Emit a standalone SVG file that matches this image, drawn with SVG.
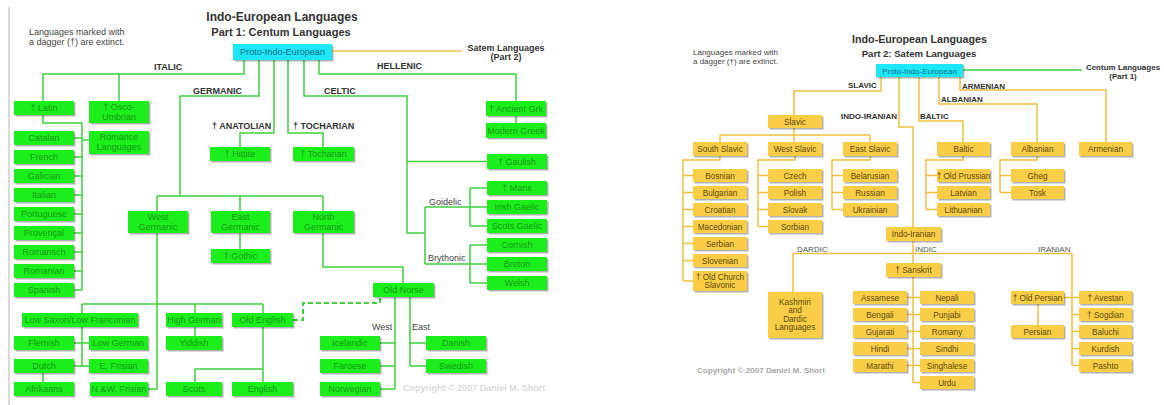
<svg xmlns="http://www.w3.org/2000/svg" width="1164" height="405" viewBox="0 0 1164 405">
<defs>
<filter id="ds" x="-10%" y="-20%" width="130%" height="160%"><feDropShadow dx="1.5" dy="1.5" stdDeviation="0.7" flood-color="#000" flood-opacity="0.3"/></filter>
<style>
text{font-family:"Liberation Sans",Arial,sans-serif}
.g{fill:#1fee1f;filter:url(#ds)}
.y{fill:#f9cd45;filter:url(#ds)}
.c{fill:#1ce6f7;filter:url(#ds)}
.tg{fill:#169a16;font-size:9px;text-anchor:middle}
.ty{fill:#5c4a12;font-size:8.2px;text-anchor:middle}
.tc{fill:#12718c;text-anchor:middle}
.lb{fill:#333;font-size:9px;font-weight:bold}
.lr{fill:#444;font-size:9px}
.ly{fill:#333;font-size:8px;font-weight:bold}
.lyr{fill:#555;font-size:8px}
.cg{fill:none;stroke:#3fcf3f;stroke-width:1.5}
.cy{fill:none;stroke:#f0c040;stroke-width:1.5}
</style>
</defs>
<rect width="1164" height="405" fill="#fff"/>
<line x1="9" y1="7" x2="9" y2="405" stroke="#ccc" stroke-width="1.5"/>

<!-- Left texts -->
<text x="29" y="35" font-size="9" fill="#444">Languages marked with</text>
<text x="29" y="45" font-size="9" fill="#444">a dagger (†) are extinct.</text>
<text x="282" y="21" font-size="12" font-weight="bold" fill="#333" text-anchor="middle">Indo-European Languages</text>
<text x="281" y="36" font-size="11" font-weight="bold" fill="#333" text-anchor="middle">Part 1: Centum Languages</text>
<text x="506" y="51" font-size="9" font-weight="bold" fill="#333" text-anchor="middle">Satem Languages</text>
<text x="506" y="60" font-size="9" font-weight="bold" fill="#333" text-anchor="middle">(Part 2)</text>
<text class="lb" x="154" y="70">ITALIC</text>
<text class="lb" x="193" y="93.5">GERMANIC</text>
<text class="lb" x="324" y="93.5">CELTIC</text>
<text class="lb" x="377" y="69">HELLENIC</text>
<text class="lb" x="212" y="129">† ANATOLIAN</text>
<text class="lb" x="293" y="129">† TOCHARIAN</text>
<text class="lr" x="429" y="205">Goidelic</text>
<text class="lr" x="428" y="261">Brythonic</text>
<text class="lr" x="372" y="330">West</text>
<text class="lr" x="412" y="330">East</text>
<text x="403" y="391" font-size="9" font-weight="bold" fill="#dadada">Copyright © 2007 Daniel M. Short</text>

<!-- Right texts -->
<text x="693" y="55" font-size="8" fill="#444">Languages marked with</text>
<text x="693" y="64" font-size="8" fill="#444">a dagger (†) are extinct.</text>
<text x="919.5" y="43" font-size="10.7" font-weight="bold" fill="#333" text-anchor="middle">Indo-European Languages</text>
<text x="919" y="57" font-size="9.6" font-weight="bold" fill="#333" text-anchor="middle">Part 2: Satem Languages</text>
<text x="1123" y="70" font-size="8" font-weight="bold" fill="#333" text-anchor="middle">Centum Languages</text>
<text x="1123" y="78.5" font-size="8" font-weight="bold" fill="#333" text-anchor="middle">(Part 1)</text>
<text class="ly" x="848" y="88">SLAVIC</text>
<text class="ly" x="841" y="119">INDO-IRANIAN</text>
<text class="ly" x="920" y="119">BALTIC</text>
<text class="ly" x="941" y="102">ALBANIAN</text>
<text class="ly" x="962" y="89">ARMENIAN</text>
<text class="lyr" x="797" y="251.5">DARDIC</text>
<text class="lyr" x="915" y="251.5">INDIC</text>
<text class="lyr" x="1038" y="251.5">IRANIAN</text>
<text x="697" y="373" font-size="8.1" font-weight="bold" fill="#a8a8a8">Copyright © 2007 Daniel M. Short</text>

<!-- Connectors -->
<g id="connectors">
<path class="cy" d="M332 51H462"/>
<path class="cg" d="M963 70H1082"/>
<path class="cg" d="M244 60V74H43V101M119 74V101M43 115V123H82V290M74 138H82M82 140H89M74 157H82M74 176H82M74 195H82M74 214H82M74 233H82M74 252H82M74 271H82M74 290H82"/>
<path class="cg" d="M259 60V96H180V196M157 196H323M157 196V211M240 196V211M323 196V211M240 233V249"/>
<path class="cg" d="M274 60V133H240V147M288 60V133H323V147"/>
<path class="cg" d="M304 60V96H407V233H425M407 161.5H487M425 207V264M425 207H487M470 188V226M470 188H487M470 226H487M425 264H487M470 245V283M470 245H487M470 283H487"/>
<path class="cg" d="M319 60V74H516V101M516 116V123"/>
<path class="cg" d="M157 233V389H148M82 304H263M82 304V313M195 304V313M263 304V313M82 327V366M74 343H89M74 366H89M43 373V382M195 327V336M263 327V382M195 369H263M195 369V382"/>
<path class="cg" d="M323 233V267H403V283M395 297V389M380 343H395M380 366H395M380 389H395M410 297V366M410 343H426M410 366H426"/>
<path d="M293 320H303V303H380V297" fill="none" stroke="#3fcf3f" stroke-width="2" stroke-dasharray="5,3"/>
<path class="cy" d="M881 77V91H794V115M794 128V135M720 135H870M720 135V142M794 135V142M870 135V142"/>
<path class="cy" d="M720 156V160H683V281M683 175.5H693M683 192.5H693M683 209.5H693M683 226.5H693M683 243.5H693M683 260.5H693M683 281H693"/>
<path class="cy" d="M795 156V160H758V226.5M758 175.5H768M758 192.5H768M758 209.5H768M758 226.5H768"/>
<path class="cy" d="M870 156V160H832V209.5M832 175.5H843M832 192.5H843M832 209.5H843"/>
<path class="cy" d="M919 77V121H963V142M963 156V160H926V209.5M926 175.5H937M926 192.5H937M926 209.5H937"/>
<path class="cy" d="M939 77V104H1037V142M1037 156V160H1000V192.5M1000 175.5H1011M1000 192.5H1011"/>
<path class="cy" d="M960 77V90H1106V142"/>
<path class="cy" d="M899 77V127H913V227M913 241V253.5M793 253.5H1072M793 253.5V292M913 253.5V263M913 277V382.5M907 297.5H920M907 314.5H920M907 331.5H920M907 348.5H920M907 365.5H920M913 382.5H920"/>
<path class="cy" d="M1072 253.5V365.5M1064 297.5H1079M1072 314.5H1079M1072 331.5H1079M1072 348.5H1079M1072 365.5H1079M1038 304V325"/>
</g>

<!-- Left nodes -->
<g id="pie1"><rect class="c" x="233" y="44" width="99" height="16"/><text class="tc" x="282.5" y="55.2" font-size="9.1">Proto-Indo-European</text></g>
<g id="latin"><rect class="g" x="14" y="101" width="60" height="14"/><text class="tg" x="44" y="111">† Latin</text></g>
<g id="osco"><rect class="g" x="89" y="101" width="60" height="22"/><text class="tg" x="119" y="109.5">† Osco-</text><text class="tg" x="119" y="119.5">Umbrian</text></g>
<g id="romance"><rect class="g" x="89" y="131" width="60" height="23"/><text class="tg" x="119" y="140">Romance</text><text class="tg" x="119" y="150">Languages</text></g>
<g id="catalan"><rect class="g" x="14" y="131" width="60" height="14"/><text class="tg" x="44" y="141">Catalan</text></g>
<g id="french"><rect class="g" x="14" y="150" width="60" height="14"/><text class="tg" x="44" y="160">French</text></g>
<g id="galician"><rect class="g" x="14" y="169" width="60" height="14"/><text class="tg" x="44" y="179">Galician</text></g>
<g id="italian"><rect class="g" x="14" y="188" width="60" height="14"/><text class="tg" x="44" y="198">Italian</text></g>
<g id="portuguese"><rect class="g" x="14" y="207" width="60" height="14"/><text class="tg" x="44" y="217">Portuguese</text></g>
<g id="provencal"><rect class="g" x="14" y="226" width="60" height="14"/><text class="tg" x="44" y="236">Provençal</text></g>
<g id="romansch"><rect class="g" x="14" y="245" width="60" height="14"/><text class="tg" x="44" y="255">Romansch</text></g>
<g id="romanian"><rect class="g" x="14" y="264" width="60" height="14"/><text class="tg" x="44" y="274">Romanian</text></g>
<g id="spanish"><rect class="g" x="14" y="283" width="60" height="14"/><text class="tg" x="44" y="293">Spanish</text></g>
<g id="ancientgrk"><rect class="g" x="486" y="101" width="60" height="15"/><text class="tg" x="516" y="111.5">† Ancient Grk</text></g>
<g id="moderngreek"><rect class="g" x="486" y="123" width="60" height="15"/><text class="tg" x="516" y="133.5">Modern Greek</text></g>
<g id="hittite"><rect class="g" x="210" y="147" width="60" height="14"/><text class="tg" x="240" y="157">† Hittite</text></g>
<g id="tocharian"><rect class="g" x="293" y="147" width="61" height="14"/><text class="tg" x="323.5" y="157">† Tocharian</text></g>
<g id="gaulish"><rect class="g" x="487" y="154" width="60" height="15"/><text class="tg" x="517" y="164.5">† Gaulish</text></g>
<g id="manx"><rect class="g" x="487" y="181" width="60" height="14"/><text class="tg" x="517" y="191">† Manx</text></g>
<g id="irish"><rect class="g" x="487" y="200" width="60" height="14"/><text class="tg" x="517" y="210">Irish Gaelic</text></g>
<g id="scotsgaelic"><rect class="g" x="487" y="219" width="60" height="14"/><text class="tg" x="517" y="229">Scots Gaelic</text></g>
<g id="cornish"><rect class="g" x="487" y="238" width="60" height="14"/><text class="tg" x="517" y="248">Cornish</text></g>
<g id="breton"><rect class="g" x="487" y="257" width="60" height="14"/><text class="tg" x="517" y="267">Breton</text></g>
<g id="welsh"><rect class="g" x="487" y="276" width="60" height="14"/><text class="tg" x="517" y="286">Welsh</text></g>
<g id="westgermanic"><rect class="g" x="128" y="211" width="60" height="22"/><text class="tg" x="158" y="220">West</text><text class="tg" x="158" y="229.5">Germanic</text></g>
<g id="eastgermanic"><rect class="g" x="211" y="211" width="59" height="22"/><text class="tg" x="240.5" y="220">East</text><text class="tg" x="240.5" y="229.5">Germanic</text></g>
<g id="northgermanic"><rect class="g" x="293" y="211" width="61" height="22"/><text class="tg" x="323.5" y="220">North</text><text class="tg" x="323.5" y="229.5">Germanic</text></g>
<g id="gothic"><rect class="g" x="211" y="249" width="59" height="14"/><text class="tg" x="240.5" y="259">† Gothic</text></g>
<g id="lowsaxon"><rect class="g" x="22" y="313" width="116" height="14"/><text class="tg" x="80" y="323">Low Saxon/Low Franconian</text></g>
<g id="highgerman"><rect class="g" x="166" y="313" width="56" height="14"/><text class="tg" x="194" y="323">High German</text></g>
<g id="oldenglish"><rect class="g" x="232" y="313" width="61" height="14"/><text class="tg" x="262.5" y="323">Old English</text></g>
<g id="flemish"><rect class="g" x="14" y="336" width="60" height="14"/><text class="tg" x="44" y="346">Flemish</text></g>
<g id="lowgerman"><rect class="g" x="89" y="336" width="59" height="14"/><text class="tg" x="118.5" y="346">Low German</text></g>
<g id="dutch"><rect class="g" x="14" y="359" width="60" height="14"/><text class="tg" x="44" y="369">Dutch</text></g>
<g id="efrisian"><rect class="g" x="89" y="359" width="59" height="14"/><text class="tg" x="118.5" y="369">E. Frisian</text></g>
<g id="afrikaans"><rect class="g" x="14" y="382" width="60" height="14"/><text class="tg" x="44" y="392">Afrikaans</text></g>
<g id="nwfrisian"><rect class="g" x="90" y="382" width="58" height="14"/><text class="tg" x="119" y="392">N.&amp;W. Frisian</text></g>
<g id="yiddish"><rect class="g" x="166" y="336" width="56" height="14"/><text class="tg" x="194" y="346">Yiddish</text></g>
<g id="scots"><rect class="g" x="166" y="382" width="56" height="14"/><text class="tg" x="194" y="392">Scots</text></g>
<g id="english"><rect class="g" x="232" y="382" width="61" height="14"/><text class="tg" x="262.5" y="392">English</text></g>
<g id="oldnorse"><rect class="g" x="373" y="283" width="61" height="14"/><text class="tg" x="403.5" y="293">Old Norse</text></g>
<g id="icelandic"><rect class="g" x="320" y="336" width="60" height="14"/><text class="tg" x="350" y="346">Icelandic</text></g>
<g id="faroese"><rect class="g" x="320" y="359" width="60" height="14"/><text class="tg" x="350" y="369">Faroese</text></g>
<g id="norwegian"><rect class="g" x="320" y="382" width="60" height="14"/><text class="tg" x="350" y="392">Norwegian</text></g>
<g id="danish"><rect class="g" x="426" y="336" width="60" height="14"/><text class="tg" x="456" y="346">Danish</text></g>
<g id="swedish"><rect class="g" x="426" y="359" width="60" height="14"/><text class="tg" x="456" y="369">Swedish</text></g>

<!-- Right nodes -->
<g id="pie2"><rect class="c" x="876" y="64" width="87" height="13"/><text class="tc" x="919.5" y="73.5" font-size="8">Proto-Indo-European</text></g>
<g id="slavic"><rect class="y" x="768" y="115" width="54" height="13"/><text class="ty" x="795" y="124.5">Slavic</text></g>
<g id="southslavic"><rect class="y" x="693" y="142" width="54" height="14"/><text class="ty" x="720" y="152">South Slavic</text></g>
<g id="westslavic"><rect class="y" x="768" y="142" width="54" height="14"/><text class="ty" x="795" y="152">West Slavic</text></g>
<g id="eastslavic"><rect class="y" x="843" y="142" width="54" height="14"/><text class="ty" x="870" y="152">East Slavic</text></g>
<g id="baltic"><rect class="y" x="937" y="142" width="53" height="14"/><text class="ty" x="963.5" y="152">Baltic</text></g>
<g id="albanian"><rect class="y" x="1011" y="142" width="53" height="14"/><text class="ty" x="1037.5" y="152">Albanian</text></g>
<g id="armenian"><rect class="y" x="1079" y="142" width="53" height="14"/><text class="ty" x="1105.5" y="152">Armenian</text></g>
<g id="bosnian"><rect class="y" x="693" y="169" width="54" height="13"/><text class="ty" x="720" y="178.5">Bosnian</text></g>
<g id="bulgarian"><rect class="y" x="693" y="186" width="54" height="13"/><text class="ty" x="720" y="195.5">Bulgarian</text></g>
<g id="croatian"><rect class="y" x="693" y="203" width="54" height="13"/><text class="ty" x="720" y="212.5">Croatian</text></g>
<g id="macedonian"><rect class="y" x="693" y="220" width="54" height="13"/><text class="ty" x="720" y="229.5">Macedonian</text></g>
<g id="serbian"><rect class="y" x="693" y="237" width="54" height="13"/><text class="ty" x="720" y="246.5">Serbian</text></g>
<g id="slovenian"><rect class="y" x="693" y="254" width="54" height="13"/><text class="ty" x="720" y="263.5">Slovenian</text></g>
<g id="ocs"><rect class="y" x="693" y="271" width="54" height="20"/><text class="ty" x="720" y="279.5">† Old Church</text><text class="ty" x="720" y="288">Slavonic</text></g>
<g id="czech"><rect class="y" x="768" y="169" width="54" height="13"/><text class="ty" x="795" y="178.5">Czech</text></g>
<g id="polish"><rect class="y" x="768" y="186" width="54" height="13"/><text class="ty" x="795" y="195.5">Polish</text></g>
<g id="slovak"><rect class="y" x="768" y="203" width="54" height="13"/><text class="ty" x="795" y="212.5">Slovak</text></g>
<g id="sorbian"><rect class="y" x="768" y="220" width="54" height="13"/><text class="ty" x="795" y="229.5">Sorbian</text></g>
<g id="belarusian"><rect class="y" x="843" y="169" width="54" height="13"/><text class="ty" x="870" y="178.5">Belarusian</text></g>
<g id="russian"><rect class="y" x="843" y="186" width="54" height="13"/><text class="ty" x="870" y="195.5">Russian</text></g>
<g id="ukrainian"><rect class="y" x="843" y="203" width="54" height="13"/><text class="ty" x="870" y="212.5">Ukrainian</text></g>
<g id="oldprussian"><rect class="y" x="937" y="169" width="53" height="13"/><text class="ty" x="963.5" y="178.5">† Old Prussian</text></g>
<g id="latvian"><rect class="y" x="937" y="186" width="53" height="13"/><text class="ty" x="963.5" y="195.5">Latvian</text></g>
<g id="lithuanian"><rect class="y" x="937" y="203" width="53" height="13"/><text class="ty" x="963.5" y="212.5">Lithuanian</text></g>
<g id="gheg"><rect class="y" x="1011" y="169" width="53" height="13"/><text class="ty" x="1037.5" y="178.5">Gheg</text></g>
<g id="tosk"><rect class="y" x="1011" y="186" width="53" height="13"/><text class="ty" x="1037.5" y="195.5">Tosk</text></g>
<g id="indoiranian"><rect class="y" x="886" y="227" width="55" height="14"/><text class="ty" x="913.5" y="237">Indo-Iranian</text></g>
<g id="sanskrit"><rect class="y" x="886" y="263" width="55" height="14"/><text class="ty" x="913.5" y="273">† Sanskrit</text></g>
<g id="kashmiri"><rect class="y" x="768" y="292" width="54" height="46"/><text class="ty" x="795" y="305">Kashmiri</text><text class="ty" x="795" y="313.3">and</text><text class="ty" x="795" y="321.6">Dardic</text><text class="ty" x="795" y="330">Languages</text></g>
<g id="assamese"><rect class="y" x="853" y="291" width="54" height="13"/><text class="ty" x="880" y="300.5">Assamese</text></g>
<g id="bengali"><rect class="y" x="853" y="308" width="54" height="13"/><text class="ty" x="880" y="317.5">Bengali</text></g>
<g id="gujarati"><rect class="y" x="853" y="325" width="54" height="13"/><text class="ty" x="880" y="334.5">Gujarati</text></g>
<g id="hindi"><rect class="y" x="853" y="342" width="54" height="13"/><text class="ty" x="880" y="351.5">Hindi</text></g>
<g id="marathi"><rect class="y" x="853" y="359" width="54" height="13"/><text class="ty" x="880" y="368.5">Marathi</text></g>
<g id="nepali"><rect class="y" x="920" y="291" width="54" height="13"/><text class="ty" x="947" y="300.5">Nepali</text></g>
<g id="punjabi"><rect class="y" x="920" y="308" width="54" height="13"/><text class="ty" x="947" y="317.5">Punjabi</text></g>
<g id="romany"><rect class="y" x="920" y="325" width="54" height="13"/><text class="ty" x="947" y="334.5">Romany</text></g>
<g id="sindhi"><rect class="y" x="920" y="342" width="54" height="13"/><text class="ty" x="947" y="351.5">Sindhi</text></g>
<g id="singhalese"><rect class="y" x="920" y="359" width="54" height="13"/><text class="ty" x="947" y="368.5">Singhalese</text></g>
<g id="urdu"><rect class="y" x="920" y="376" width="54" height="13"/><text class="ty" x="947" y="385.5">Urdu</text></g>
<g id="oldpersian"><rect class="y" x="1011" y="291" width="53" height="13"/><text class="ty" x="1037.5" y="300.5">† Old Persian</text></g>
<g id="persian"><rect class="y" x="1011" y="325" width="53" height="13"/><text class="ty" x="1037.5" y="334.5">Persian</text></g>
<g id="avestan"><rect class="y" x="1079" y="291" width="53" height="13"/><text class="ty" x="1105.5" y="300.5">† Avestan</text></g>
<g id="sogdian"><rect class="y" x="1079" y="308" width="53" height="13"/><text class="ty" x="1105.5" y="317.5">† Sogdian</text></g>
<g id="baluchi"><rect class="y" x="1079" y="325" width="53" height="13"/><text class="ty" x="1105.5" y="334.5">Baluchi</text></g>
<g id="kurdish"><rect class="y" x="1079" y="342" width="53" height="13"/><text class="ty" x="1105.5" y="351.5">Kurdish</text></g>
<g id="pashto"><rect class="y" x="1079" y="359" width="53" height="13"/><text class="ty" x="1105.5" y="368.5">Pashto</text></g>
</svg>
